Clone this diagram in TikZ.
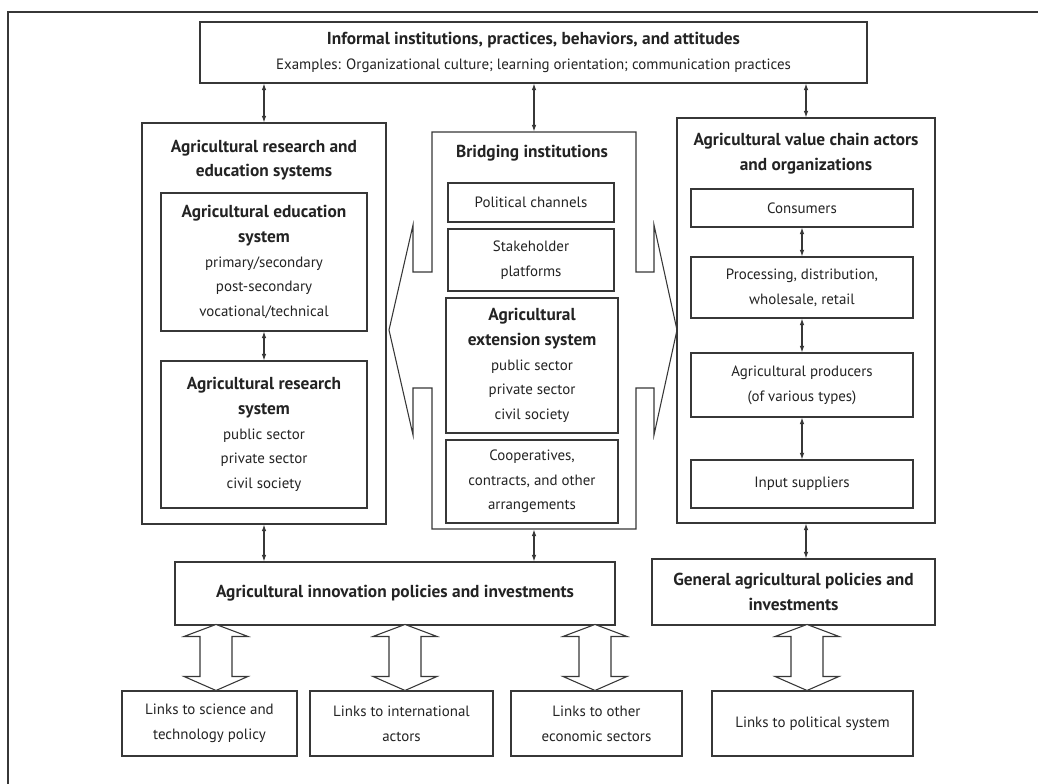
\documentclass[tikz,border=0pt]{standalone}
\usepackage{fontspec}
\setmainfont{PT Sans}
\usetikzlibrary{arrows.meta}

\definecolor{lineGray}{RGB}{55,55,55}
\definecolor{textGray}{RGB}{35,35,35}

% bold headings are set larger than the body text
\newcommand{\hd}[1]{{\fontsize{13}{18.5}\selectfont\bfseries #1}}

\tikzset{every picture/.style={line width=0.75pt}}
\tikzset{
	box/.style={draw=lineGray, line width=0.8pt, fill=white, inner sep=0.75pt, align=center, text=textGray, font=\fontsize{11.2}{18.5}\selectfont},
	heading/.style={inner sep=0.75pt, align=center, text=textGray, font=\fontsize{13}{18.5}\selectfont\bfseries},
	link/.style={draw=lineGray, line width=0.8pt, {Latex[length=5pt,width=3.5pt]}-{Latex[length=5pt,width=3.5pt]}},
	linkarrow/.pic={
		\draw [draw=lineGray, line width=0.8pt, fill=white] (0,0) -- (-32,14) -- (-16,14) -- (-16,54) -- (-32,54) -- (0,66) -- (32,54) -- (16,54) -- (16,14) -- (32,14) -- cycle;
	}
}

\begin{document}
\begin{tikzpicture}[x=0.75pt,y=0.75pt,yscale=-1,xscale=1]
		\useasboundingbox (0,0) rectangle (1038,784);
		
		%Straight Lines (frame)
		\draw [lineGray, line width=0.9pt] (8,784) -- (8,12) -- (1038,12) ;
		
		% Text Node
		\node [box, minimum width=500.25pt, minimum height=45.75pt] (top) at (533.5,52.5) {\hd{Informal institutions, practices, behaviors, and attitudes}\\Examples: Organizational culture; learning orientation; communication practices};
		
		%Shape: Rectangle (research and education)
		\node [box, minimum width=183pt, minimum height=300.75pt] (ares) at (264,323.5) {};
		% Text Node
		\node [heading] (arestitle) at (264,160) {Agricultural research and\\education systems};
		% Text Node
		\node [box, minimum width=154.5pt, minimum height=103.5pt] (edu) at (264,262) {\hd{Agricultural education}\\\hd{system}\\primary/secondary\\post-secondary\\vocational/technical};
		% Text Node
		\node [box, minimum width=154.5pt, minimum height=110.25pt] (res) at (264,434.5) {\hd{Agricultural research}\\\hd{system}\\public sector\\private sector\\civil society};
		
		%Shape: Bridging box with double arrow
		\draw [draw=lineGray, line width=0.8pt, fill=white] (432,132) -- (636,132) -- (636,272) -- (654,272) -- (654,225) -- (677,330) -- (654,435) -- (654,388) -- (636,388) -- (636,529) -- (432,529) -- (432,388) -- (413,388) -- (413,435) -- (389,330) -- (413,225) -- (413,272) -- (432,272) -- cycle ;
		\node [minimum width=153pt, minimum height=297.75pt, inner sep=0pt] (bri) at (534,330.5) {};
		% Text Node
		\node [heading] (brititle) at (532,153) {Bridging institutions};
		% Text Node
		\node [box, minimum width=124.5pt, minimum height=29.25pt] (pol) at (531,202.5) {Political channels};
		% Text Node
		\node [box, minimum width=124.5pt, minimum height=46.5pt] (stake) at (531,260) {Stakeholder\\platforms};
		% Text Node
		\node [box, minimum width=129pt, minimum height=101.25pt] (ext) at (532,365.5) {\hd{Agricultural}\\\hd{extension system}\\public sector\\private sector\\civil society};
		% Text Node
		\node [box, minimum width=129pt, minimum height=62.25pt] (coop) at (532,481.5) {Cooperatives,\\contracts, and other\\arrangements};
		
		%Shape: Rectangle (value chain)
		\node [box, minimum width=193.5pt, minimum height=303.75pt] (vca) at (806,320.5) {};
		% Text Node
		\node [heading] (vcatitle) at (806,154) {Agricultural value chain actors\\and organizations};
		% Text Node
		\node [box, minimum width=166.5pt, minimum height=28.5pt] (cons) at (802,208) {Consumers};
		% Text Node
		\node [box, minimum width=166.5pt, minimum height=45.75pt] (proc) at (802,287.5) {Processing, distribution,\\wholesale, retail};
		% Text Node
		\node [box, minimum width=166.5pt, minimum height=48pt] (prod) at (802,385) {Agricultural producers\\(of various types)};
		% Text Node
		\node [box, minimum width=166.5pt, minimum height=36pt] (inp) at (802,484) {Input suppliers};
		
		% Text Node
		\node [box, minimum width=330pt, minimum height=47.25pt] (innov) at (395,593.5) {\hd{Agricultural innovation policies and investments}};
		% Text Node
		\node [box, minimum width=212.25pt, minimum height=49.5pt] (gen) at (793.5,592) {\hd{General agricultural policies and}\\\hd{investments}};
		
		% Text Node
		\node [box, minimum width=131.25pt, minimum height=48.75pt] (sci) at (209.5,723.5) {Links to science and\\technology policy};
		% Text Node
		\node [box, minimum width=137.25pt, minimum height=48.75pt] (intl) at (401.5,723.5) {Links to international\\actors};
		% Text Node
		\node [box, minimum width=128.25pt, minimum height=48.75pt] (econ) at (596.5,723.5) {Links to other\\economic sectors};
		% Text Node
		\node [box, minimum width=150.75pt, minimum height=48.75pt] (pols) at (812.5,723.5) {Links to political system};
		
		%Straight Lines
		\draw [link] (top.south -| ares.north) -- (ares.north) ;
		\draw [link] (top.south -| bri.north) -- (bri.north) ;
		\draw [link] (top.south -| vca.north) -- (vca.north) ;
		\draw [link] (edu.south) -- (res.north) ;
		\draw [link] (cons.south) -- (proc.north) ;
		\draw [link] (proc.south) -- (prod.north) ;
		\draw [link] (prod.south) -- (inp.north) ;
		\draw [link] (ares.south) -- (ares.south |- innov.north) ;
		\draw [link] (bri.south) -- (bri.south |- innov.north) ;
		\draw [link] (vca.south) -- (vca.south |- gen.north) ;
		
		%Shape: Up Down Arrow
		\pic at ([xshift=4.875pt]sci.north) {linkarrow};
		\pic at ([xshift=2.625pt]intl.north) {linkarrow};
		\pic at ([xshift=-1.125pt]econ.north) {linkarrow};
		\pic at ([xshift=-4.125pt]pols.north) {linkarrow};
		
\end{tikzpicture}
\end{document}
